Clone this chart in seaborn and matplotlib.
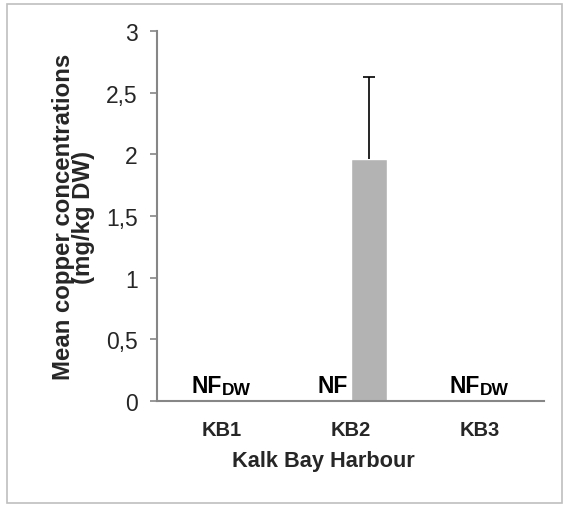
import matplotlib
matplotlib.use("Agg")
import matplotlib.pyplot as plt
import seaborn as sns
import pandas as pd
from matplotlib.patches import Rectangle

sites = ["KB1", "KB2", "KB3"]
series = ["NF", "Detected"]
values_nf = [0.0, 0.0, 0.0]
values_det = [0.0, 1.96, 0.0]
err_upper = [0.0, 0.67, 0.0]
labels = ["NF_DW", "NF", "NF_DW"]
y_ticks = [0, 0.5, 1, 1.5, 2, 2.5, 3]
y_ticklabels = ["0", "0,5", "1", "1,5", "2", "2,5", "3"]

sns.set_theme(style="white")
plt.rcParams['font.family'] = ['Liberation Sans', 'DejaVu Sans']

df = pd.DataFrame({
    "site": sites * 2,
    "series": [series[0]] * 3 + [series[1]] * 3,
    "value": values_nf + values_det,
})

W, H = 568, 506
fig = plt.figure(figsize=(W/100, H/100), dpi=100)
ax = fig.add_axes([157/W, 1-402/H, (544-157)/W, (402-32)/H])

sns.barplot(data=df, x="site", y="value", hue="series", palette=["#b3b3b3", "#b3b3b3"],
            width=0.56, errorbar=None, legend=False, ax=ax, saturation=1)

# error bars (upper only) on the detected series
det_patches = ax.patches[3:6]
for p, v, e in zip(det_patches, values_det, err_upper):
    if e > 0:
        xc = p.get_x() + p.get_width() / 2
        _, caps, _ = ax.errorbar(xc, v, yerr=[[0], [e]], fmt="none", ecolor="black",
                                 elinewidth=1.2, capsize=4.3, capthick=1.2)
        caps[0].set_visible(False)

ax.set_xlim(-0.5, 2.5)
ax.set_ylim(0, 3)
ax.set_yticks(y_ticks)
ax.set_yticklabels(y_ticklabels, fontsize=16.5)
ax.set_xticks(range(3))
ax.set_xticklabels(sites, fontsize=14.5, fontweight="bold")

for s in ["top", "right"]:
    ax.spines[s].set_visible(False)
for s in ["left", "bottom"]:
    ax.spines[s].set_color("#868686")
    ax.spines[s].set_linewidth(1.5)
ax.tick_params(axis="y", left=True, length=5, width=1.2, color="#868686", pad=9)
ax.tick_params(axis="x", bottom=False, pad=8)

ax.set_ylabel("Mean copper concentrations\n(mg/kg DW)", fontsize=17.3, fontweight="bold",
              linespacing=0.85)
ax.yaxis.set_label_coords((95-157)/387, 0.5)
ax.set_xlabel("Kalk Bay Harbour", fontsize=15.7, fontweight="bold")
ax.xaxis.set_label_coords((323.5-157)/387, -(451-402)/370)

# NF labels (NF with DW subscript)
fig.canvas.draw()
r = fig.canvas.get_renderer()
base = 0.07
for i, lab in enumerate(labels):
    if lab == "NF_DW":
        t1 = ax.text(0, base, "NF", ha="left", va="baseline", fontsize=16.5,
                     fontweight="bold", color="black")
        t2 = ax.text(0, base, "DW", ha="left", va="baseline", fontsize=12.5,
                     fontweight="bold", color="black")
        w1 = t1.get_window_extent(r).width
        w2 = t2.get_window_extent(r).width
        xc_px = ax.transData.transform((i, base))[0]
        x0 = xc_px - (w1 + w2) / 2
        inv = ax.transData.inverted()
        t1.set_x(inv.transform((x0, 0))[0])
        y_sub = inv.transform((0, ax.transData.transform((0, base))[1] - 1.5))[1]
        t2.set_position((inv.transform((x0 + w1, 0))[0], y_sub))
    else:
        ax.text(i - 0.14, base, "NF", ha="center", va="baseline", fontsize=16.5,
                fontweight="bold", color="black")

fig.patches.append(Rectangle((7/W, 1-504/H), (562-7)/W, (504-5)/H,
                             transform=fig.transFigure, fill=False,
                             edgecolor="#bfbfbf", linewidth=1.2))

fig.savefig("out.png", dpi=100)
